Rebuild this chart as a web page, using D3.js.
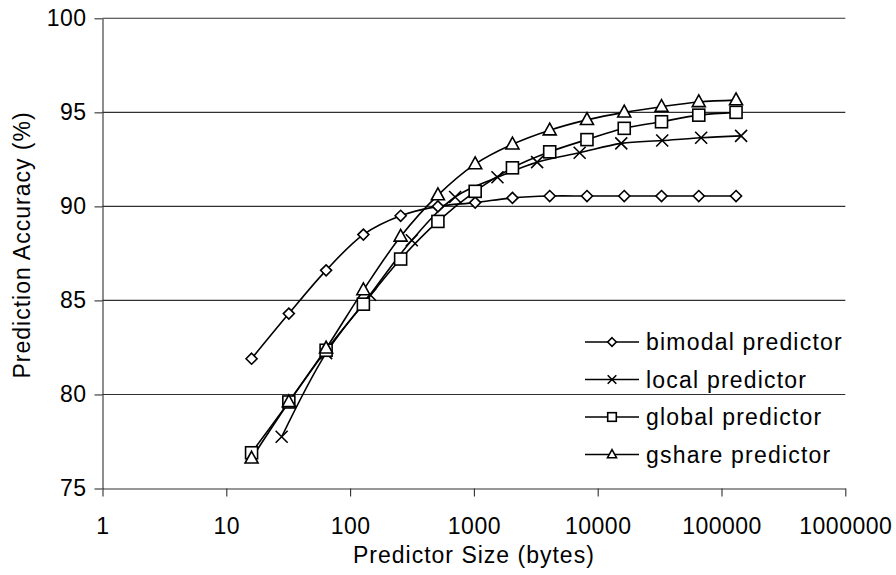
<!DOCTYPE html>
<html>
<head>
<meta charset="utf-8">
<script src="https://cdn.jsdelivr.net/npm/d3@7"></script>
<style>
  body { margin: 0; background: #fff; }
  svg { font-family: Arial, "Liberation Sans", sans-serif; }
</style>
</head>
<body>
<svg id="chart" width="896" height="575"></svg>
<script>
// Predictor sizes in bytes (bimodal, global and gshare share these)
const sizes = [16, 32, 64, 128, 256, 512, 1024, 2048, 4096, 8192, 16384, 32768, 65536, 131072];
// local predictor sits at its own sizes
const localSizes = [28, 64, 145, 315, 705, 1550, 3240, 7150, 15500, 33200, 68500, 144000];

const bimodal = [81.9, 84.3, 86.6, 88.5, 89.5, 90.0, 90.2, 90.45, 90.55, 90.55, 90.55, 90.55, 90.55, 90.55];
const local = [77.75, 82.2, 85.3, 88.2, 90.5, 91.55, 92.35, 92.85, 93.35, 93.5, 93.65, 93.75];
const global = [76.9, 79.6, 82.35, 84.8, 87.2, 89.2, 90.8, 92.05, 92.9, 93.55, 94.15, 94.5, 94.85, 95.0];
const gshare = [76.6, 79.6, 82.45, 85.55, 88.4, 90.6, 92.25, 93.3, 94.05, 94.6, 95.0, 95.3, 95.55, 95.65];

const xTicks = [1, 10, 100, 1000, 10000, 100000, 1000000];
const yTicks = [75, 80, 85, 90, 95, 100];

const series = [
  { name: "bimodal predictor", xs: sizes, ys: bimodal, marker: "diamond" },
  { name: "local predictor", xs: localSizes, ys: local, marker: "cross" },
  { name: "global predictor", xs: sizes, ys: global, marker: "square" },
  { name: "gshare predictor", xs: sizes, ys: gshare, marker: "triangle" }
];

const svg = d3.select("#chart");
const plotL = 102.5, plotR = 845.3, plotT = 18.3, plotB = 488.5;

const x = d3.scaleLog().domain([1, 1000000]).range([plotL, plotR]);
const y = d3.scaleLinear().domain([75, 100]).range([plotB, plotT]);

const ink = "#303030";

// gridlines
svg.append("g")
  .selectAll("line")
  .data(yTicks.filter(d => d > 75))
  .join("line")
  .attr("x1", plotL)
  .attr("x2", plotR)
  .attr("y1", d => y(d))
  .attr("y2", d => y(d))
  .attr("stroke", ink)
  .attr("stroke-width", 1.1);

// axes
const fontSize = 23;
const xAxis = svg.append("g")
  .attr("transform", `translate(0,${plotB})`)
  .call(d3.axisBottom(x).tickValues(xTicks).tickFormat(d3.format("d")).tickSizeInner(8).tickSizeOuter(0).tickPadding(21));
const yAxis = svg.append("g")
  .attr("transform", `translate(${plotL},0)`)
  .call(d3.axisLeft(y).tickValues(yTicks).tickSizeInner(8).tickSizeOuter(0).tickPadding(8));

[xAxis, yAxis].forEach(a => {
  a.select(".domain").attr("stroke", ink).attr("stroke-width", 1.1);
  a.selectAll(".tick line").attr("stroke", ink).attr("stroke-width", 1.1);
  a.selectAll("text").attr("font-size", fontSize).attr("fill", "#000")
    .attr("letter-spacing", 0.5)
    .attr("font-family", "Arial, 'Liberation Sans', sans-serif");
});

svg.append("text")
  .attr("x", (plotL + plotR) / 2)
  .attr("y", 563)
  .attr("text-anchor", "middle")
  .attr("font-size", fontSize)
  .attr("letter-spacing", 1)
  .text("Predictor Size (bytes)");

svg.append("text")
  .attr("transform", `translate(30,245) rotate(-90)`)
  .attr("text-anchor", "middle")
  .attr("font-size", fontSize)
  .attr("letter-spacing", 1)
  .text("Prediction Accuracy (%)");

// markers
function drawMarker(sel, type, s) {
  if (type === "diamond") {
    sel.append("path")
      .attr("d", `M0,${-s}L${s},0L0,${s}L${-s},0Z`)
      .attr("fill", "#fff").attr("stroke", "#000").attr("stroke-width", 1.6);
  } else if (type === "square") {
    sel.append("rect")
      .attr("x", -s).attr("y", -s).attr("width", 2 * s).attr("height", 2 * s)
      .attr("fill", "#fff").attr("stroke", "#000").attr("stroke-width", 1.6);
  } else if (type === "triangle") {
    sel.append("path")
      .attr("d", `M0,${-s * 1.15}L${s * 1.05},${s * 0.75}L${-s * 1.05},${s * 0.75}Z`)
      .attr("fill", "#fff").attr("stroke", "#000").attr("stroke-width", 1.6);
  } else if (type === "cross") {
    sel.append("path")
      .attr("d", `M${-s},${-s}L${s},${s}M${s},${-s}L${-s},${s}`)
      .attr("stroke", "#000").attr("stroke-width", 1.6);
  }
}

const markerSize = { diamond: 5.5, cross: 6, square: 6, triangle: 6.2 };

const line = d3.line().curve(d3.curveCatmullRom.alpha(0.5));

series.forEach(sr => {
  const pts = sr.xs.map((v, i) => [x(v), y(sr.ys[i])]);
  svg.append("path")
    .attr("d", line(pts))
    .attr("fill", "none")
    .attr("stroke", "#000")
    .attr("stroke-width", 1.6);
});

series.forEach(sr => {
  sr.xs.forEach((v, i) => {
    const g = svg.append("g").attr("transform", `translate(${x(v)},${y(sr.ys[i])})`);
    drawMarker(g, sr.marker, markerSize[sr.marker]);
  });
});

// legend
const legend = svg.append("g");
series.forEach((sr, i) => {
  const ly = 342 + i * 37.5;
  const g = legend.append("g").attr("transform", `translate(0,${ly})`);
  g.append("line").attr("x1", 585).attr("x2", 639).attr("y1", 0).attr("y2", 0)
    .attr("stroke", "#000").attr("stroke-width", 1.6);
  const m = g.append("g").attr("transform", "translate(612,0)");
  drawMarker(m, sr.marker, 4.3);
  g.append("text").attr("x", 646).attr("y", 0).attr("dy", "0.35em")
    .attr("font-size", fontSize).attr("letter-spacing", 1.2).text(sr.name);
});
</script>
</body>
</html>
